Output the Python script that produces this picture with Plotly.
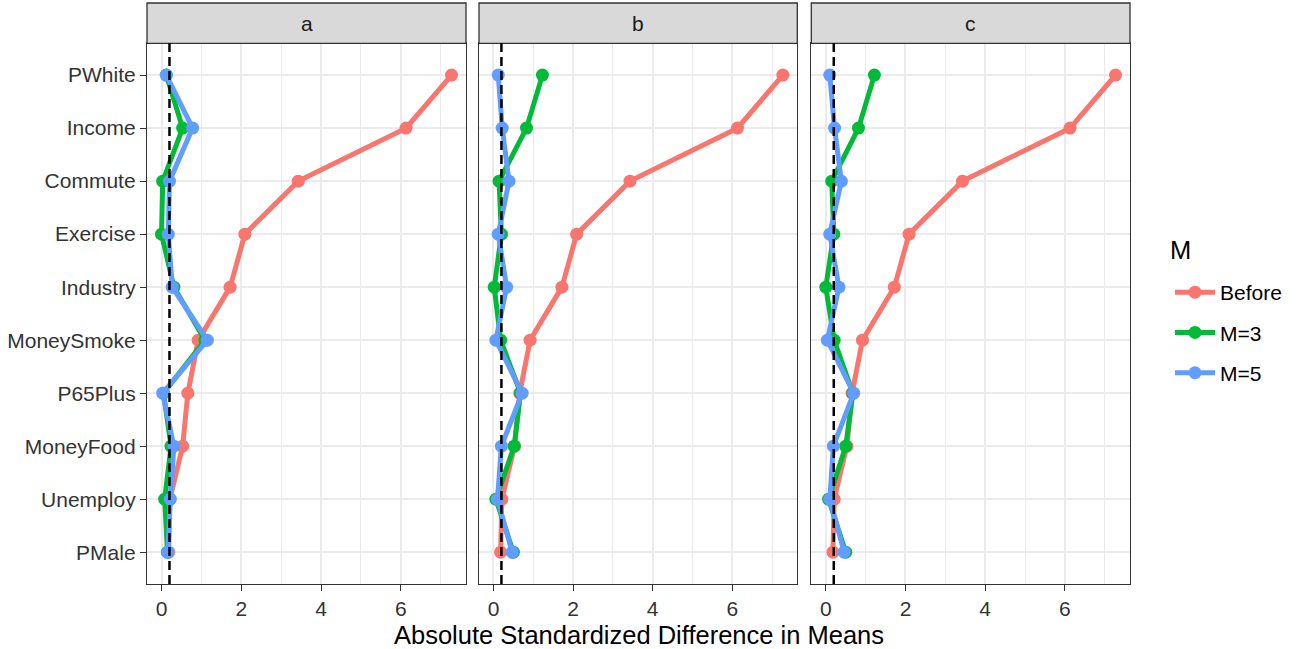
import plotly.graph_objects as go

# ---------------- data ----------------
variables = ["PWhite", "Income", "Commute", "Exercise", "Industry",
             "MoneySmoke", "P65Plus", "MoneyFood", "Unemploy", "PMale"]
panels = ["a", "b", "c"]
series_names = ["Before", "M=3", "M=5"]

before = [7.27, 6.13, 3.43, 2.09, 1.72, 0.92, 0.66, 0.53, 0.21, 0.18]

m3_a = [0.12, 0.53, 0.03, 0.00, 0.31, 1.09, 0.05, 0.24, 0.08, 0.15]
m5_a = [0.12, 0.78, 0.20, 0.17, 0.27, 1.15, 0.03, 0.31, 0.22, 0.16]

m3_b = [1.23, 0.83, 0.14, 0.20, 0.02, 0.18, 0.68, 0.52, 0.06, 0.50]
m5_b = [0.12, 0.22, 0.39, 0.12, 0.33, 0.06, 0.72, 0.20, 0.10, 0.47]

m3_c = [1.22, 0.82, 0.15, 0.20, 0.00, 0.21, 0.68, 0.50, 0.07, 0.50]
m5_c = [0.10, 0.22, 0.39, 0.10, 0.33, 0.04, 0.70, 0.19, 0.10, 0.46]

threshold = 0.2
x_ticks = [0, 2, 4, 6]
x_minor = [1, 3, 5, 7]

panel_data = {
    "a": [before, m3_a, m5_a],
    "b": [before, m3_b, m5_b],
    "c": [before, m3_c, m5_c],
}
colors = {"Before": "#F8766D", "M=3": "#00BA38", "M=5": "#619CFF"}

# ---------------- layout geometry ----------------
W, H = 1301, 649
ml, mr, mt, mb = 147, 171, 3, 65
pw = W - ml - mr
ph = H - mt - mb
panel_top_px = 43.3
y_dom_top = (ph - (panel_top_px - mt)) / ph
x_domains = [
    [0, (466 - ml) / pw],
    [(479 - ml) / pw, (797.3 - ml) / pw],
    [(811.3 - ml) / pw, 1.0],
]

def px_to_paper_y(py):
    return (H - mb - py) / ph

def px_to_paper_x(px):
    return (px - ml) / pw

allvals = [v for p in panels for s in panel_data[p] for v in s]
xmax = max(allvals)
xmin = min(0, min(allvals))
pad = (xmax - xmin) * 0.05
x_range = [xmin - pad, xmax + pad]
y_range = [-0.6, len(variables) - 1 + 0.6]

tick_col = "#333333"

fig = go.Figure()
layout = dict(
    width=W, height=H,
    margin=dict(l=ml, r=mr, t=mt, b=mb, pad=0),
    paper_bgcolor="white", plot_bgcolor="white",
    font=dict(family="Liberation Sans, Arial, sans-serif", color="#1A1A1A"),
    showlegend=True,
)
shapes = []
annotations = []

for i, p in enumerate(panels):
    sfx = "" if i == 0 else str(i + 1)
    xa, ya = "x" + sfx, "y" + sfx
    for name, vals in zip(series_names, panel_data[p]):
        fig.add_trace(go.Scatter(
            x=vals, y=variables, xaxis=xa, yaxis=ya,
            mode="lines+markers", name=name,
            legendgroup=name, showlegend=(i == 0),
            line=dict(color=colors[name], width=5),
            marker=dict(color=colors[name], size=13),
            cliponaxis=False,
        ))
    layout["xaxis" + sfx] = dict(
        domain=x_domains[i], anchor=ya, range=x_range,
        tickvals=x_ticks, ticktext=[str(t) for t in x_ticks],
        showgrid=True, gridcolor="#EBEBEB", gridwidth=1.5,
        minor=dict(tickvals=x_minor, showgrid=True, gridcolor="#EBEBEB",
                   gridwidth=0.75, ticks=""),
        ticks="outside", ticklen=6, tickwidth=1.3, tickcolor=tick_col,
        showline=True, mirror=True, linecolor="#333333", linewidth=1.3,
        zeroline=False, tickfont=dict(size=21, color=tick_col),
    )
    layout["yaxis" + sfx] = dict(
        domain=[0, y_dom_top], anchor=xa, type="category",
        categoryorder="array", categoryarray=variables[::-1],
        range=y_range,
        showgrid=True, gridcolor="#EBEBEB", gridwidth=1.5,
        ticks="outside" if i == 0 else "", ticklen=6, tickwidth=1.3,
        tickcolor=tick_col,
        showticklabels=(i == 0),
        showline=True, mirror=True, linecolor="#333333", linewidth=1.3,
        zeroline=False, tickfont=dict(size=21, color=tick_col),
    )
    # strip
    shapes.append(dict(type="rect", xref=xa + " domain", yref="paper",
                       x0=0, x1=1, y0=y_dom_top, y1=1,
                       fillcolor="#D9D9D9",
                       line=dict(color="#333333", width=1.3), layer="above"))
    annotations.append(dict(text=p, xref=xa + " domain", yref="paper",
                            x=0.5, y=(y_dom_top + 1) / 2, showarrow=False,
                            xanchor="center", yanchor="middle",
                            font=dict(size=21, color="#1A1A1A")))
    # threshold line
    shapes.append(dict(type="line", xref=xa, yref=ya + " domain",
                       x0=threshold, x1=threshold, y0=0, y1=1,
                       line=dict(color="black", width=2.5, dash="9px,5px"),
                       layer="above"))

annotations.append(dict(text="Absolute Standardized Difference in Means",
                        xref="paper", yref="paper", x=0.5,
                        y=px_to_paper_y(635),
                        showarrow=False, xanchor="center", yanchor="middle",
                        font=dict(size=25.5, color="black")))
# legend title
annotations.append(dict(text="M", xref="paper", yref="paper",
                        x=px_to_paper_x(1168), y=px_to_paper_y(250),
                        showarrow=False, xanchor="left", yanchor="middle",
                        font=dict(size=25.5, color="black")))

layout["shapes"] = shapes
layout["annotations"] = annotations
layout["legend"] = dict(
    font=dict(size=21, color="black"),
    x=px_to_paper_x(1170), xanchor="left",
    y=px_to_paper_y(272), yanchor="top",
    itemwidth=40,
    tracegroupgap=10, bgcolor="rgba(0,0,0,0)",
)
fig.update_layout(**layout)
fig.write_html("out.html", config={"displayModeBar": False},
               post_script="document.body.style.margin='0px';")
